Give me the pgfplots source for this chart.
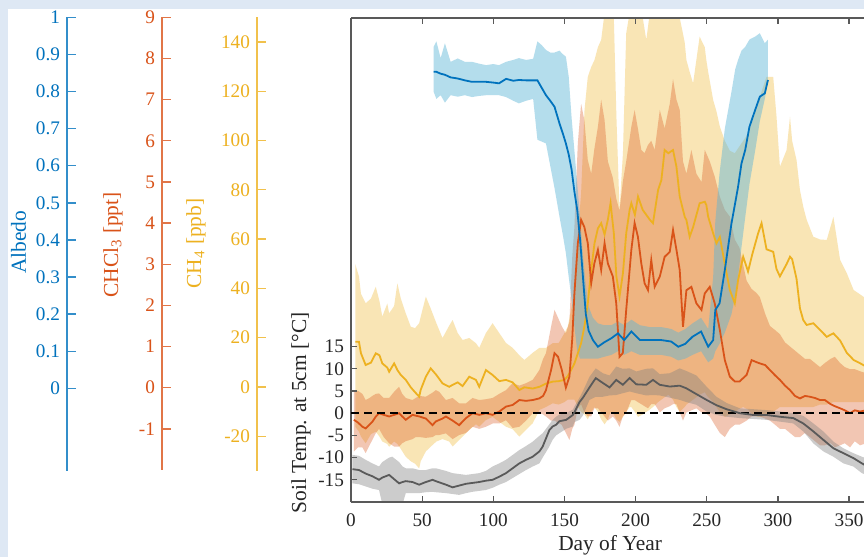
\documentclass[border=0pt]{standalone}
\usepackage{pgfplots}
\pgfplotsset{compat=1.18}
\usepackage{pgfplotstable}
\usepackage{fontspec}
\setmainfont{Liberation Serif}

\definecolor{albedo}{HTML}{0072BD}
\definecolor{chcl}{HTML}{D95319}
\definecolor{meth}{HTML}{EDB120}
\definecolor{soil}{HTML}{5A5A5A}
\definecolor{albband}{RGB}{90,180,215}
\definecolor{edge}{RGB}{222,232,244}

\newcommand\tickfont{\fontsize{9.6}{11}\selectfont}
\newcommand\labfont{\fontsize{10.7}{12}\selectfont}

% day of year, lower bound, mean, upper bound
\pgfplotstableread{
d lo mid hi
58 0.80 0.853 0.92
60 0.78 0.853 0.935
63 0.79 0.848 0.89
66 0.77 0.845 0.93
70 0.79 0.838 0.88
75 0.786 0.835 0.889
80 0.79 0.830 0.88
85 0.785 0.826 0.88
90 0.788 0.826 0.875
95 0.79 0.826 0.871
100 0.79 0.824 0.874
104 0.79 0.822 0.871
109 0.785 0.834 0.88
114 0.775 0.829 0.885
118 0.768 0.831 0.89
123 0.775 0.830 0.885
128 0.78 0.830 0.888
131 0.67 0.830 0.935
134 0.665 0.810 0.925
137 0.66 0.790 0.912
140 0.60 0.775 0.905
143 0.54 0.759 0.905
146.5 0.463 0.714 0.91
149 0.41 0.685 0.90
151 0.364 0.660 0.894
153 0.30 0.630 0.84
155 0.24 0.590 0.73
157 0.166 0.530 0.64
159 0.10 0.480 0.55
161 0.08 0.400 0.46
163 0.08 0.300 0.36
165 0.08 0.200 0.28
167 0.08 0.155 0.22
170 0.08 0.130 0.19
173.5 0.08 0.112 0.175
178 0.085 0.124 0.17
183 0.09 0.135 0.17
187.6 0.10 0.148 0.18
192 0.09 0.130 0.17
197 0.10 0.153 0.185
203 0.09 0.130 0.17
210 0.09 0.130 0.165
218 0.09 0.130 0.165
225 0.085 0.126 0.16
230 0.075 0.112 0.15
235 0.08 0.120 0.16
240 0.09 0.139 0.175
246 0.10 0.153 0.19
251 0.07 0.112 0.16
254.5 0.08 0.130 0.30
256 0.10 0.211 0.45
259 0.12 0.229 0.58
262.7 0.15 0.319 0.70
267.4 0.20 0.445 0.80
270 0.25 0.500 0.86
272 0.30 0.543 0.885
274.4 0.38 0.606 0.91
277 0.46 0.642 0.92
280 0.55 0.705 0.94
284 0.64 0.750 0.948
287.3 0.72 0.786 0.957
290.8 0.78 0.795 0.93
293 0.83 0.831 0.94
}\albtab

\pgfplotstableread{
d lo mid hi
2 -1.55 -0.78 -0.06
5 -1.45 -0.85 -0.08
8 -1.45 -0.95 -0.15
10.3 -1.59 -0.99 -0.3
13 -1.4 -0.9 -0.25
15 -1.27 -0.83 -0.2
17.5 -1.1 -0.7 -0.15
19.7 -1.0 -0.62 -0.14
23 -1.2 -0.66 -0.25
26.8 -1.35 -0.70 -0.25
30.3 -1.43 -0.66 -0.1
33.8 -1.43 -0.62 0.02
36 -1.35 -0.7 -0.15
38.5 -1.3 -0.78 -0.25
43.2 -1.25 -0.66 -0.30
45.5 -1.2 -0.68 -0.25
48 -1.2 -0.70 -0.2
52.6 -1.22 -0.75 -0.22
57.3 -1.2 -0.91 -0.12
59.6 -1.15 -0.82 -0.06
62 -1.15 -0.785 -0.1
64.3 -1.13 -0.75 -0.2
66.7 -1.11 -0.70 -0.30
71.4 -1.25 -0.80 -0.25
76 -1.15 -0.91 -0.38
80.8 -1.1 -0.74 -0.38
85.4 -0.95 -0.62 -0.25
90.1 -1.0 -0.66 -0.3
94.8 -0.95 -0.62 -0.28
99.5 -0.87 -0.66 -0.25
104.2 -0.87 -0.58 -0.15
108.9 -0.79 -0.46 -0.06
113.6 -0.98 -0.42 0.11
118.3 -0.95 -0.30 0.05
123 -0.8 -0.32 0.11
127.7 -0.62 -0.30 0.19
132.4 -0.62 -0.26 0.43
135 -0.65 -0.2 0.7
137 -0.7 -0.06 0.84
140.6 -0.8 0.43 1.48
143 -0.8 0.84 1.89
145.5 -0.85 0.75 1.7
148 -0.9 0.45 1.5
151 -1.1 0.0 1.32
153.5 -1.27 0.27 1.6
155.5 -1.0 1.2 3.2
157 -0.9 2.29 3.91
159.4 -0.5 3.51 5.94
161.7 -0.4 4.08 6.9
164 -0.6 3.9 6.5
166.4 -0.7 3.51 5.53
168.8 -0.7 2.54 5.2
171 -0.5 3.02 5.8
173.5 -0.5 3.35 6.34
175.8 -0.6 2.86 7.0
178.2 -0.7 3.51 6.5
180.5 -0.8 3.02 5.5
184 -0.7 2.70 5.1
186.4 -0.8 2.05 4.6
188.7 -0.95 0.75 4.3
191 -0.7 0.84 5.0
193.4 -0.6 1.89 5.5
197 -0.3 3.35 6.34
199.3 -0.3 4.0 6.75
201.6 -0.35 3.67 6.3
204 -0.4 3.02 5.78
206.3 -0.45 2.54 5.7
208.7 -0.5 2.37 5.9
211 -0.4 3.10 6.0
213.4 -0.4 2.45 5.78
217 -0.6 2.70 6.75
220.4 -0.5 3.18 6.3
224 -0.45 3.3 6.9
226.3 -0.4 3.83 7.5
228.7 -0.4 3.35 7.0
231 -0.6 2.86 6.75
233.3 -0.8 1.48 5.5
235.7 -0.6 2.37 5.2
239.2 -0.55 2.45 5.78
242.7 -0.5 2.05 5.2
246.3 -0.6 1.89 5.0
248.6 -0.6 2.29 5.78
252.1 -0.7 2.45 5.5
255.6 -0.9 2.05 5.13
259.2 -1.1 1.40 4.64
262.7 -1.2 0.67 4.32
266.2 -1.0 0.27 4.16
269.7 -0.9 0.15 3.6
273 -0.9 0.15 3.4
278 -0.8 0.31 2.6
281.5 -0.7 0.67 2.4
285 -0.7 0.62 2.3
287.3 -0.7 0.59 2.2
291 -0.75 0.55 1.8
294.4 -0.8 0.43 1.5
298 -0.9 0.30 1.4
301.4 -1.0 0.19 1.3
305 -1.0 0.05 1.1
308.5 -1.1 -0.06 1.0
312 -1.2 -0.2 0.9
315.5 -1.2 -0.26 0.8
319 -1.1 -0.2 0.7
322.5 -1.2 -0.22 0.7
326 -1.3 -0.25 0.6
329.6 -1.4 -0.30 0.5
333 -1.4 -0.3 0.6
337 -1.35 -0.4 0.7
340 -1.45 -0.45 0.75
343.7 -1.4 -0.50 0.6
347 -1.35 -0.55 0.5
350.7 -1.45 -0.62 0.45
354 -1.3 -0.55 0.45
357.7 -1.4 -0.58 0.4
362 -1.35 -0.55 0.35
}\chcltab

\pgfplotstableread{
d lo mid hi
3 -16 18.5 50
5.6 -18 18.5 45
7 -20 13.8 38
10.3 -22.7 9.05 34.1
14 -19 10 36
17.4 -18 13.8 40.8
20 -20 13 35
22 -22 9.7 28.7
25.5 -23 8 34
26.8 -24.1 6.3 30
30.3 -22 9.7 33
32.6 -23 7 42.2
35 -25 5.0 36
38.5 -28.2 3 30
42 -30 0 24.6
45 -31 -2 24
47.9 -32.9 -3.8 26
49 -30 -1 28.7
52.6 -26 4.3 36.8
56 -24.1 7.7 32
60 -22 5 26
64.3 -21 1.6 20
69 -22 0.2 25
71.4 -24 1 27.3
75 -22 2 22
78.4 -20 0.5 19.2
83.1 -17.3 4.3 20
87.8 -15 3 17.9
90.1 -16 0.2 16
94.8 -13.3 7.0 22
99.5 -12 5.0 26
104.2 -14 2.5 22
108.9 -16 3 18
113.6 -17 2 16
118.3 -20 -1.1 13
121.8 -18 0 11.1
127.7 -14.6 -0.5 14
132.4 -9.2 0.2 16
137 -8 1.5 16
141.7 -6.5 2.3 17.9
146 -7 2.5 18
150 -6 3.0 22
152.3 -5 4.5 24.6
155.9 -5 8.4 35
157 -5 9.7 44.9
159.5 -8 14 62
161.7 -10 17.9 78.7
164.1 -11 25 112.5
166.4 -13 34.1 126
168.8 -10 47.6 130
171.1 -8 58.4 132.8
173.5 -10 64.5 138
175.8 -13 66.6 141
178.2 -15 62 152
180.5 -13 68 156
182.4 -10 74.7 156
184.7 -11 62.5 150
186.5 -13 45 110
188.7 -14 36.8 72
191.1 -12 46.3 95
193.4 -10 62.5 143.7
195.8 -8 72 152
197 -8 74.7 156
199.5 -10 70 156
201.7 -12 77.4 156
205 -11 72 150
207.5 -10 70 141
210 -9 68 152
212.2 -8 66.6 156
215.8 -6 80.1 156
218.1 -5 84.1 156
220.4 -4 96.3 156
223 -3 95 156
226.3 -5 96.3 156
228.7 -8 89.5 156
231 -10 77.4 150
234.5 -8 69.2 140
235.7 -7 67.9 132.8
238 -6 61.1 128
240.4 -5 65 123.4
245 -3 74.7 142.3
248.6 -2 75.3 138
249.7 -3 74 132.8
251 -4 69.2 128
254.5 -6 62.5 116.6
256.8 -8 58.4 112
259.2 -10 61 105.8
262.7 -12 50 100
266.2 -11 39.5 96
269.7 -10 34.1 95
272 -9 43.5 97
275.6 -8 53 100
279 -9 47 103
282 -11 54 108
286.1 -12 62.5 115
288.5 -12 66.6 120
292 -11 56 126
296.7 -10 55 126
299 -9 48 110
301.4 -8 45 89.5
306.1 -8 50 96.3
308.5 -8 53 109.8
310 -8 52 100
313.1 -8 44 92.2
315.5 -8 32 80
317.8 -8 27.3 73.3
320.2 -8 25.3 68
324.9 -8 26 61.1
329.6 -7 23.3 60
334.3 -7 20.5 59.8
339 -6 21.9 69.2
343.7 -6 19 51.7
348.4 -6 14 46.3
353.2 -6 11.1 39.5
357 -6 10 38
362 -6 8.4 36
}\methtab

\pgfplotstableread{
d lo mid hi
1 -15.8 -12.6 -9.4
5.6 -16 -12.8 -9.6
10.3 -16.5 -13.6 -10.5
15 -17 -14.2 -11.3
19.7 -17.3 -15.0 -12.0
22 -20.5 -14.5 -11.0
26.8 -20.5 -13.9 -10.0
29 -20.5 -14.5 -9.8
33.8 -20.5 -15.8 -11.0
36.2 -20.5 -15.5 -12.0
38.5 -18.0 -15.3 -12.4
43.2 -18.0 -15.5 -12.4
47.9 -18.0 -16.1 -12.8
52.6 -17.8 -15.5 -12.8
57.3 -17.7 -15.0 -12.4
59.6 -17.8 -15.3 -12.4
66.7 -18.0 -16.1 -13.0
71.4 -18.2 -16.7 -13.5
76 -18.4 -16.3 -13.7
80.8 -18.0 -15.9 -13.9
85.4 -17.7 -15.7 -13.7
90.1 -17.5 -15.5 -13.5
94.8 -17.3 -15.2 -13.0
99.5 -16.8 -15.0 -12.0
104.2 -16.1 -14.3 -11.3
108.9 -15.5 -13.5 -10.5
113.6 -14.6 -12.4 -9.4
118.3 -13.7 -11.3 -8.3
123 -12.8 -10.5 -7.4
127.7 -12.0 -9.8 -6.4
132.4 -11.3 -8.6 -5.1
134.7 -10.0 -7.5 -4.5
139.4 -7.5 -3.8 -2.5
141.7 -6.0 -3.0 -1.5
144.1 -5.0 -2.6 -0.8
146.5 -4.5 -1.8 -0.3
151.2 -3.5 -1.5 0
155.9 -3.0 -0.4 0.8
157 -2.0 0.2 1.5
160.6 -1.5 2.5 3.5
163 -0.5 3.5 5.0
167.6 3.0 5.8 8.2
172 3.7 7.9 10.1
177 3.7 6.8 9.0
181.7 4.0 5.8 8.5
186.4 4.1 7.5 10.5
191 4.5 6.4 10.0
195.8 4.9 7.9 10.1
200.5 4.5 6.5 9.4
207.5 4.0 6.4 10.0
212.2 4.1 7.5 10.1
216.9 4.0 6.4 8.8
224 3.5 6.0 9.0
231 3.0 6.2 10.1
235.7 2.5 5.6 9.5
242.7 1.9 4.3 8.5
249.8 0.4 3.0 6.0
256.8 -0.4 1.8 3.7
263.9 -0.8 0.9 2.3
273.2 -1.1 0 1.1
282.6 -1.3 -0.4 0.9
292 -1.5 -0.4 0.7
301.4 -1.9 -0.8 0.4
310.8 -2.3 -1.1 0.0
317.8 -4.1 -2.3 -0.6
324.9 -6.8 -4.1 -2.3
331.9 -8.6 -6.0 -4.1
339 -9.8 -7.9 -6.4
346 -11.3 -9.0 -7.9
353 -12.0 -10.1 -9.0
359 -13.5 -11.3 -9.8
363 -14.0 -12.0 -10.3
}\soiltab

\pgfplotsset{
  panel/.style={scale only axis, width=256.5pt, height=242pt,
    at={(175.5pt,-251pt)}, anchor=south west, xmin=0, xmax=360.5},
  hidden/.style={panel, hide axis},
  scalebar/.style={scale only axis, width=1pt, anchor=north west,
    axis x line=none, axis y line=left,
    axis line style={-, #1!80, line width=0.7pt},
    tick align=inside, major tick length=4.5pt,
    tick style={#1!80, line width=0.7pt},
    yticklabel style={text=#1, font=\tickfont},
    scaled y ticks=false, /pgf/number format/assume math mode=true,
    xmin=0, xmax=1},
}
% shaded range between the lo and hi columns of a table
\newcommand\band[3]{%
  \addplot[draw=none, mark=none, stack plots=y] table[x=d, y=lo] {#1};
  \addplot[draw=none, mark=none, stack plots=y, fill=#2, fill opacity=#3]
    table[x=d, y expr=\thisrow{hi}-\thisrow{lo}] {#1} \closedcycle;
}

\begin{document}
\begin{tikzpicture}
\fill[edge] (0,0) rectangle (432pt,-278.5pt);
\fill[white] (4pt,-4.5pt) rectangle (432pt,-278.5pt);

% stand-alone scales on the left (an invisible plot gives each axis a body)
\begin{axis}[scalebar=albedo, at={(33.5pt,-8.65pt)}, height=226.7pt,
  ymin=-0.222, ymax=1, ytick={0,0.1,0.2,0.3,0.4,0.5,0.6,0.7,0.8,0.9,1}]
\addplot[draw=none, mark=none] coordinates {(0,0) (1,1)};
\end{axis}
\begin{axis}[scalebar=chcl, at={(81pt,-8.65pt)}, height=226.35pt,
  ymin=-2, ymax=9, ytick={-1,0,1,2,3,4,5,6,7,8,9}]
\addplot[draw=none, mark=none] coordinates {(0,0) (1,1)};
\end{axis}
\begin{axis}[scalebar=meth, at={(128.5pt,-8.65pt)}, height=226.7pt,
  ymin=-34, ymax=150, ytick={-20,0,20,40,60,80,100,120,140}]
\addplot[draw=none, mark=none] coordinates {(0,0) (1,1)};
\end{axis}

\node[rotate=90, text=albedo, font=\labfont] at (9.25pt,-121.25pt) {Albedo};
\node[rotate=90, text=chcl, font=\labfont] at (56.5pt,-122.5pt) {CHCl\textsubscript{3} [ppt]};
\node[rotate=90, text=meth, font=\labfont] at (98pt,-121.75pt) {CH\textsubscript{4} [ppb]};

% bands
\begin{axis}[hidden, ymin=-46.55, ymax=149.88]
\band{\methtab}{meth}{0.33}
\end{axis}
\begin{axis}[hidden, ymin=-2.778, ymax=8.984]
\band{\chcltab}{chcl}{0.33}
\end{axis}
\begin{axis}[hidden, ymin=-0.3065, ymax=0.9981]
\band{\albtab}{albband}{0.45}
\end{axis}
\begin{axis}[hidden, ymin=-20, ymax=89]
\band{\soiltab}{gray}{0.4}
\end{axis}

% means
\begin{axis}[hidden, ymin=-46.55, ymax=149.88]
\addplot[meth, line width=0.9pt, mark=none] table[x=d, y=mid] {\methtab};
\end{axis}
\begin{axis}[hidden, ymin=-2.778, ymax=8.984]
\addplot[chcl, line width=0.9pt, mark=none] table[x=d, y=mid] {\chcltab};
\end{axis}
\begin{axis}[hidden, ymin=-0.3065, ymax=0.9981]
\addplot[albedo, line width=0.9pt, mark=none] table[x=d, y=mid] {\albtab};
\end{axis}

% soil temperature, main frame
\begin{axis}[panel, ymin=-20, ymax=89,
  axis x line=box, axis y line=left, axis line style={-, black!65, line width=0.6pt},
  tick align=inside, major tick length=3pt, tick style={black!65, line width=0.6pt},
  xtick={0,50,100,150,200,250,300,350}, ytick={-15,-10,-5,0,5,10,15},
  tick label style={font=\tickfont, text=black!85},
  xticklabel style={yshift=-2.5pt},
  /pgf/number format/assume math mode=true,
  xlabel={Day of Year}, ylabel={Soil Temp. at 5cm [°C]},
  label style={font=\labfont, text=black!85},
  xlabel style={at={(axis description cs:0.505,-0.089)}, anchor=center},
  ylabel style={at={(axis description cs:-0.0975,0.184)}, anchor=center},
]
\addplot[black, line width=0.9pt, dash pattern=on 4pt off 2.5pt, mark=none] coordinates {(0,0) (360.5,0)};
\addplot[soil, line width=0.9pt, mark=none] table[x=d, y=mid] {\soiltab};
\end{axis}
\pgfresetboundingbox
\path[use as bounding box] (0,0) rectangle (432pt,-278.5pt);
\end{tikzpicture}
\end{document}
